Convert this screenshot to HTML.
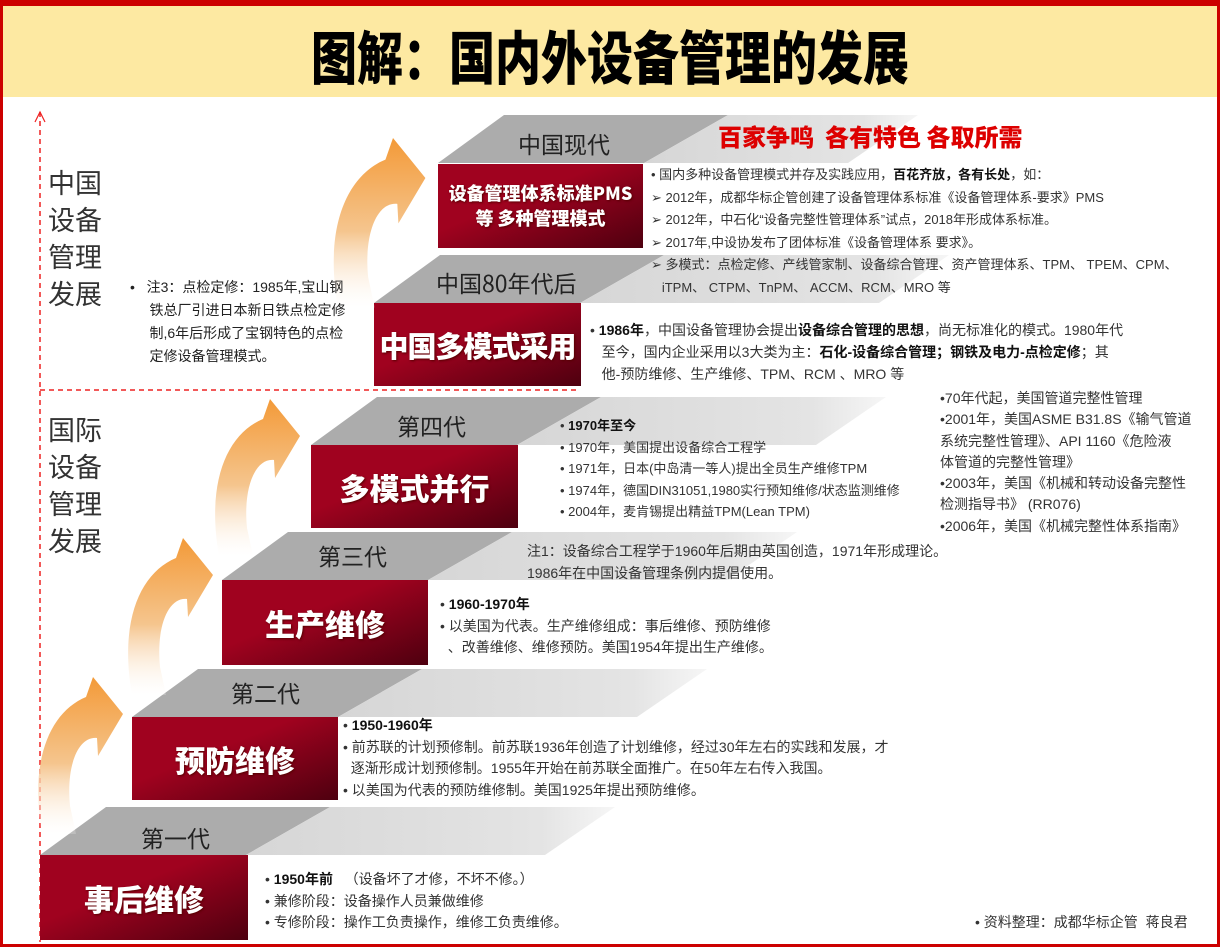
<!DOCTYPE html>
<html><head><meta charset="utf-8">
<style>
*{margin:0;padding:0;box-sizing:border-box}
body{width:1220px;height:950px;background:#fff;position:relative;overflow:hidden;font-family:"Liberation Sans","Noto Sans CJK SC",sans-serif;color:#222}
.frame{position:absolute;left:0;top:0;width:1220px;height:947px;border:3px solid #cc0000;border-top:6px solid #cc0000}
.title{position:absolute;left:3px;top:6px;width:1214px;height:91px;background:#fde9a2}
.title span{position:absolute;left:0;width:100%;top:16px;text-align:center;font-size:46px;font-weight:900;color:#000;transform:scaleY(1.25);letter-spacing:0px;font-family:"Noto Sans CJK SC",sans-serif}
.t{position:absolute;white-space:nowrap;font-size:13.5px;line-height:21.5px;color:#333;font-family:"Liberation Sans","Noto Sans CJK SC",sans-serif}
.t b{color:#111}
.lbl{position:absolute;font-size:23px;color:#222;font-family:"Noto Sans CJK SC",sans-serif;white-space:nowrap}
.box{position:absolute;color:#fff;font-weight:900;text-align:center;font-family:"Noto Sans CJK SC",sans-serif;display:flex;align-items:center;justify-content:center;text-shadow:1px 1px 2px #500;white-space:nowrap}
.vt{position:absolute;font-size:27px;line-height:37px;width:60px;color:#333;font-family:"Noto Sans CJK SC",sans-serif}
</style></head><body>
<svg width="1220" height="950" style="position:absolute;left:0;top:0">
<defs>
<linearGradient id="rg" x1="0" y1="0" x2="1" y2="1"><stop offset="0.4" stop-color="#a0021f"/><stop offset="1" stop-color="#4e000f"/></linearGradient>
<linearGradient id="lg" x1="0" y1="0" x2="1" y2="0"><stop offset="0" stop-color="#d6d6d6"/><stop offset="0.8" stop-color="#e4e4e4"/><stop offset="1" stop-color="#f6f6f6"/></linearGradient>
<linearGradient id="og" x1="0" y1="0" x2="0" y2="1"><stop offset="0" stop-color="#f39a38"/><stop offset="0.55" stop-color="#f5c58e"/><stop offset="1" stop-color="#ffffff" stop-opacity="0.2"/></linearGradient>
<g id="band"><polygon points="0,48 66,0 290,0 206,48" fill="#acacac"/><polygon points="206,48 290,0 575,0 505,48" fill="url(#lg)"/></g>
<g id="arr"><path d="M93,677 L123,714 L98,756 L97,738 C78,736 66,766 70,806 L76,834 L42,834 C29,760 50,712 86,697 Z" fill="url(#og)"/></g>
</defs>
<line x1="40" y1="112" x2="40" y2="942" stroke="#e22" stroke-width="1.5" stroke-dasharray="5,4"/>
<line x1="40" y1="390" x2="578" y2="390" stroke="#e22" stroke-width="1.5" stroke-dasharray="5,4"/>
<path d="M35,122 L40,112 L45,122" fill="none" stroke="#e22" stroke-width="1.2"/>
<use href="#band" x="40" y="807"/>
<use href="#band" x="132" y="669"/>
<use href="#band" x="222" y="532"/>
<use href="#band" x="311" y="397"/>
<use href="#band" x="374" y="255"/>
<g transform="translate(438,115)"><polygon points="0,48 66,0 290,0 206,48" fill="#acacac"/><polygon points="206,48 290,0 480,0 410,48" fill="url(#lg)"/></g>
<rect x="40" y="855" width="208" height="85" fill="url(#rg)"/>
<rect x="132" y="717" width="206" height="83" fill="url(#rg)"/>
<rect x="222" y="580" width="206" height="85" fill="url(#rg)"/>
<rect x="311" y="445" width="207" height="83" fill="url(#rg)"/>
<rect x="374" y="303" width="207" height="83" fill="url(#rg)"/>
<rect x="438" y="164" width="205" height="84" fill="url(#rg)"/>
<use href="#arr"/>
<use href="#arr" transform="translate(90,-139)"/>
<use href="#arr" transform="translate(177,-278)"/>
<use href="#arr" transform="translate(393,138) scale(1.08) translate(-93,-677)"/>
</svg>
<div class="frame"></div>
<div class="title"><span>图解：国内外设备管理的发展</span></div>

<div class="vt" style="left:48px;top:163px">中国设备管理发展</div>
<div class="vt" style="left:48px;top:410px">国际设备管理发展</div>

<div class="t" style="left:130px;top:276px;font-size:14px;line-height:23px;color:#222">•&nbsp;&nbsp;&nbsp;注3：点检定修：1985年,宝山钢<br>&nbsp;&nbsp;&nbsp;&nbsp;&nbsp;铁总厂引进日本新日铁点检定修<br>&nbsp;&nbsp;&nbsp;&nbsp;&nbsp;制,6年后形成了宝钢特色的点检<br>&nbsp;&nbsp;&nbsp;&nbsp;&nbsp;定修设备管理模式。</div>

<div class="lbl" style="left:518px;top:126px">中国现代</div>
<div class="lbl" style="left:436px;top:265px">中国80年代后</div>
<div class="lbl" style="left:397px;top:408px">第四代</div>
<div class="lbl" style="left:318px;top:538px">第三代</div>
<div class="lbl" style="left:231px;top:675px">第二代</div>
<div class="lbl" style="left:141px;top:820px">第一代</div>

<div class="box" style="left:438px;top:164px;width:205px;height:84px;font-size:18px;line-height:25px">设备管理体系标准PMS<br>等 多种管理模式</div>
<div class="box" style="left:374px;top:303px;width:207px;height:83px;font-size:29px;letter-spacing:-1px">中国多模式采用</div>
<div class="box" style="left:311px;top:445px;width:207px;height:83px;font-size:30px">多模式并行</div>
<div class="box" style="left:222px;top:580px;width:206px;height:85px;font-size:30px">生产维修</div>
<div class="box" style="left:132px;top:717px;width:206px;height:83px;font-size:30px">预防维修</div>
<div class="box" style="left:40px;top:855px;width:208px;height:85px;font-size:30px">事后维修</div>

<div style="position:absolute;left:718px;top:118px;font-size:24px;font-weight:900;color:#d00;font-family:'Noto Sans CJK SC',sans-serif;white-space:nowrap">百家争鸣&nbsp;&nbsp;各有特色 各取所需</div>

<div class="t" style="left:651px;top:164px;font-size:13px;line-height:22.5px">• 国内多种设备管理模式并存及实践应用，<b>百花齐放，各有长处</b>，如：<br>➢ 2012年，成都华标企管创建了设备管理体系标准《设备管理体系-要求》PMS<br>➢ 2012年，中石化“设备完整性管理体系”试点，2018年形成体系标准。<br>➢ 2017年,中设协发布了团体标准《设备管理体系 要求》。<br>➢ 多模式：点检定修、产线管家制、设备综合管理、资产管理体系、TPM、 TPEM、CPM、<br>&nbsp;&nbsp;&nbsp;iTPM、 CTPM、TnPM、 ACCM、RCM、MRO 等</div>

<div class="t" style="left:590px;top:319px;font-size:14px;line-height:22px">• <b>1986年</b>，中国设备管理协会提出<b>设备综合管理的思想</b>，尚无标准化的模式。1980年代<br>&nbsp;&nbsp;&nbsp;至今，国内企业采用以3大类为主：<b>石化-设备综合管理；钢铁及电力-点检定修</b>；其<br>&nbsp;&nbsp;&nbsp;他-预防维修、生产维修、TPM、RCM 、MRO 等</div>

<div class="t" style="left:560px;top:415px;font-size:13px;line-height:21.5px">• <b>1970年至今</b><br>• 1970年，美国提出设备综合工程学<br>• 1971年，日本(中岛清一等人)提出全员生产维修TPM<br>• 1974年，德国DIN31051,1980实行预知维修/状态监测维修<br>• 2004年，麦肯锡提出精益TPM(Lean TPM)</div>

<div class="t" style="left:940px;top:388px;font-size:14px;line-height:21.3px">•70年代起，美国管道完整性管理<br>•2001年，美国ASME B31.8S《输气管道<br>系统完整性管理》、API 1160《危险液<br>体管道的完整性管理》<br>•2003年，美国《机械和转动设备完整性<br>检测指导书》 (RR076)<br>•2006年，美国《机械完整性体系指南》</div>

<div class="t" style="left:527px;top:540px;font-size:14px;line-height:22px">注1：设备综合工程学于1960年后期由英国创造，1971年形成理论。<br>1986年在中国设备管理条例内提倡使用。</div>

<div class="t" style="left:440px;top:594px;font-size:14px;line-height:21.5px">• <b>1960-1970年</b><br>• 以美国为代表。生产维修组成：事后维修、预防维修<br>&nbsp;&nbsp;、改善维修、维修预防。美国1954年提出生产维修。</div>

<div class="t" style="left:343px;top:715px;font-size:14px;line-height:21.5px">• <b>1950-1960年</b><br>• 前苏联的计划预修制。前苏联1936年创造了计划维修，经过30年左右的实践和发展，才<br>&nbsp;&nbsp;逐渐形成计划预修制。1955年开始在前苏联全面推广。在50年左右传入我国。<br>• 以美国为代表的预防维修制。美国1925年提出预防维修。</div>

<div class="t" style="left:265px;top:869px;font-size:14px;line-height:21.5px">• <b>1950年前</b>&nbsp;&nbsp;&nbsp;（设备坏了才修，不坏不修。）<br>• 兼修阶段：设备操作人员兼做维修<br>• 专修阶段：操作工负责操作，维修工负责维修。</div>

<div class="t" style="left:975px;top:912px;font-size:14px">• 资料整理：成都华标企管&nbsp;&nbsp;蒋良君</div>
</body></html>
